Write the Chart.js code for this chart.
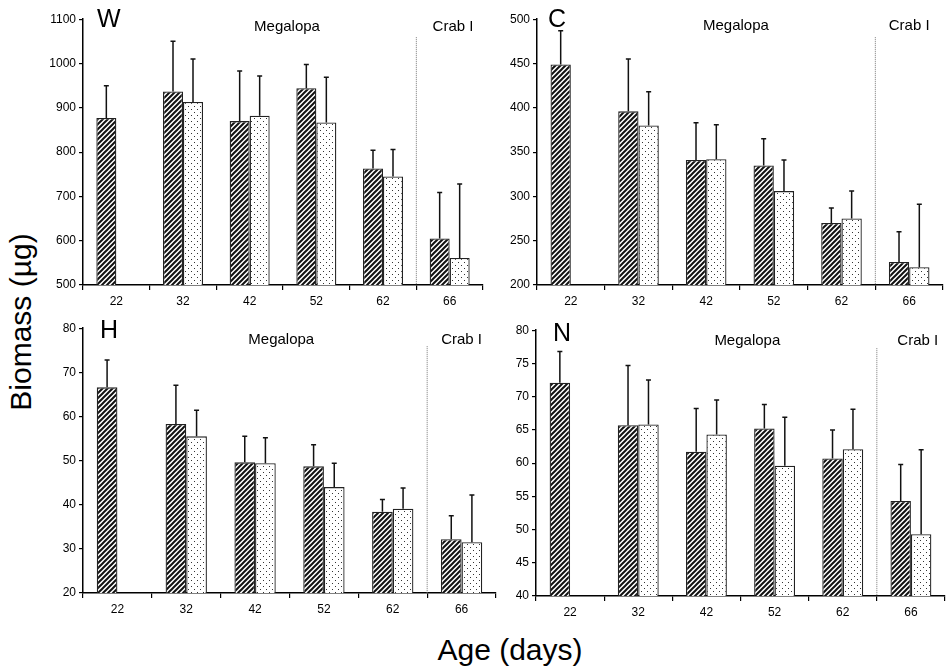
<!DOCTYPE html>
<html>
<head>
<meta charset="utf-8">
<script src="https://cdn.jsdelivr.net/npm/chart.js@4.4.1/dist/chart.umd.min.js"></script>
<style>
  body { margin: 0; background: #fff; width: 947px; height: 669px; position: relative; overflow: hidden;
         font-family: "Liberation Sans", Arial, sans-serif; }
  canvas { position: absolute; }
  #ylab { position: absolute; left: 21px; top: 322px; transform: translate(-50%, -50%) rotate(-90deg);
          font-size: 30px; line-height: 1; white-space: nowrap; color: #000; }
  #xlab { position: absolute; left: 510px; top: 650px; transform: translate(-50%, -50%);
          font-size: 30px; line-height: 1; white-space: nowrap; color: #000; }
</style>
</head>
<body>
<canvas id="cW"></canvas>
<canvas id="cC"></canvas>
<canvas id="cH"></canvas>
<canvas id="cN"></canvas>
<div id="ylab">Biomass (µg)</div>
<div id="xlab">Age (days)</div>
<script>
// ages (days)
const ages = ["22", "32", "42", "52", "62", "66"];

// W - dry weight
const wHatch = [877, 937, 870, 944, 763, 605];
const wHatchSd = [73, 113, 113, 54, 41, 104];
const wDot = [null, 913, 882, 867, 745, 561];
const wDotSd = [null, 97, 90, 102, 61, 167];

// C - carbon
const cHatch = [449, 396, 341, 335, 270, 226];
const cHatchSd = [38, 59, 42, 30, 17, 34];
const cDot = [null, 380, 342, 306, 275, 220];
const cDotSd = [null, 38, 39, 35, 31, 71];

// H - hydrogen
const hHatch = [66.6, 58.3, 49.6, 48.7, 38.4, 32.2];
const hHatchSd = [6.2, 8.8, 5.9, 4.9, 2.8, 5.3];
const hDot = [null, 55.5, 49.4, 44.0, 39.1, 31.5];
const hDotSd = [null, 5.9, 5.8, 5.4, 4.7, 10.7];

// N - nitrogen
const nHatch = [72.1, 65.7, 61.7, 65.2, 60.7, 54.3];
const nHatchSd = [4.7, 9.0, 6.5, 3.6, 4.3, 5.5];
const nDot = [null, 65.8, 64.3, 59.6, 62.1, 49.3];
const nDotSd = [null, 6.7, 5.2, 7.3, 6.0, 12.7];

const FONT = '"Liberation Sans", Arial, sans-serif';

// fill patterns
function makeHatch() {
  const s = 5, c = document.createElement("canvas");
  c.width = s; c.height = s;
  const g = c.getContext("2d");
  g.fillStyle = "#fff"; g.fillRect(0, 0, s, s);
  g.strokeStyle = "#111"; g.lineWidth = 2;
  g.beginPath();
  g.moveTo(0, s); g.lineTo(s, 0);
  g.moveTo(-1, 1); g.lineTo(1, -1);
  g.moveTo(s - 1, s + 1); g.lineTo(s + 1, s - 1);
  g.stroke();
  return g.createPattern(c, "repeat");
}
function makeDots() {
  const s = 6, c = document.createElement("canvas");
  c.width = s; c.height = s;
  const g = c.getContext("2d");
  g.fillStyle = "#fff"; g.fillRect(0, 0, s, s);
  g.fillStyle = "#333";
  g.fillRect(1, 1, 1, 1);
  g.fillRect(4, 4, 1, 1);
  return g.createPattern(c, "repeat");
}
const hatch = makeHatch();
const dots = makeDots();

// error bars (upper only)
const errorBars = {
  id: "errorBars",
  afterDatasetsDraw(chart) {
    const ctx = chart.ctx, y = chart.scales.y;
    chart.data.datasets.forEach((ds, i) => {
      const meta = chart.getDatasetMeta(i);
      meta.data.forEach((bar, j) => {
        const v = ds.data[j], e = ds.errors[j];
        if (v == null || e == null) return;
        const yTop = y.getPixelForValue(v + e);
        ctx.save();
        ctx.strokeStyle = "#111";
        ctx.lineWidth = 1.5;
        ctx.beginPath();
        ctx.moveTo(bar.x, bar.y);
        ctx.lineTo(bar.x, yTop);
        ctx.moveTo(bar.x - 2.5, yTop);
        ctx.lineTo(bar.x + 2.5, yTop);
        ctx.stroke();
        ctx.restore();
      });
    });
  }
};

// panel letter, stage names, divider line
const panelText = {
  id: "panelText",
  afterDraw(chart, args, opts) {
    const { ctx, chartArea: a } = chart;
    const x = chart.scales.x;
    const at = (v) => {
      const i = Math.floor(v), f = v - i;
      const p0 = x.getPixelForValue(i);
      const p1 = x.getPixelForValue(i + 1);
      return p0 + (p1 - p0) * f;
    };
    const xDiv = at(4.5);
    ctx.save();
    ctx.strokeStyle = "#777";
    ctx.lineWidth = 1;
    ctx.setLineDash([1, 1]);
    ctx.beginPath();
    ctx.moveTo(xDiv, a.top + 18);
    ctx.lineTo(xDiv, a.bottom);
    ctx.stroke();
    ctx.setLineDash([]);
    ctx.fillStyle = "#000";
    ctx.font = "25px " + FONT;
    ctx.textAlign = "left";
    ctx.textBaseline = "alphabetic";
    ctx.fillText(opts.letter, a.left + opts.letterDx, a.top + opts.letterDy);
    ctx.font = "15px " + FONT;
    ctx.textAlign = "center";
    ctx.textBaseline = "middle";
    ctx.fillText("Megalopa", at(opts.megaAt), a.top + opts.textDy);
    ctx.fillText("Crab I", at(opts.crabAt), a.top + opts.textDy);
    ctx.restore();
  }
};

function drawPanel(id, area, hatchData, hatchSd, dotData, dotSd, yMin, yMax, step, txt) {
  const cv = document.getElementById(id);
  cv.width = area.r - area.l + 42;
  cv.height = area.b - area.t + 40;
  cv.style.left = (area.l - 40) + "px";
  cv.style.top = (area.t - 10) + "px";
  new Chart(cv.getContext("2d"), {
    type: "bar",
    data: {
      labels: ages,
      datasets: [
        { data: hatchData, errors: hatchSd, backgroundColor: hatch, borderColor: "#222",
          borderWidth: 1.3, categoryPercentage: 0.6, barPercentage: 1.0 },
        { data: dotData, errors: dotSd, backgroundColor: dots, borderColor: "#222",
          borderWidth: 1.3, categoryPercentage: 0.6, barPercentage: 1.0 }
      ]
    },
    options: {
      responsive: false,
      animation: false,
      layout: { padding: { top: 10, right: 2, left: 0, bottom: 0 } },
      plugins: { legend: { display: false }, tooltip: { enabled: false }, panelText: txt },
      scales: {
        x: {
          grid: { offset: true, drawOnChartArea: false, tickLength: 5, color: "#000", lineWidth: 1.2 },
          border: { color: "#000", width: 1.5 },
          ticks: { font: { family: FONT, size: 12 }, color: "#000", padding: 4, maxRotation: 0 },
          afterFit: (s) => { s.height = 30; }
        },
        y: {
          min: yMin, max: yMax,
          ticks: { stepSize: step, font: { family: FONT, size: 12 }, color: "#000", padding: 3,
                   callback: (v) => String(v) },
          grid: { drawOnChartArea: false, tickLength: 4, color: "#000", lineWidth: 1.2 },
          border: { color: "#000", width: 1.5 },
          afterFit: (s) => { s.width = 40; }
        }
      }
    },
    plugins: [errorBars, panelText]
  });
}

drawPanel("cW", { l: 83, r: 483, t: 19, b: 285 }, wHatch, wHatchSd, wDot, wDotSd, 500, 1100, 100,
  { letter: "W", letterDx: 14, letterDy: 8, megaAt: 2.56, crabAt: 5.05, textDy: 8 });
drawPanel("cC", { l: 537, r: 943, t: 19, b: 285 }, cHatch, cHatchSd, cDot, cDotSd, 200, 500, 50,
  { letter: "C", letterDx: 11, letterDy: 8, megaAt: 2.44, crabAt: 5.0, textDy: 7 });
drawPanel("cH", { l: 83, r: 496, t: 328, b: 593 }, hHatch, hHatchSd, hDot, hDotSd, 20, 80, 10,
  { letter: "H", letterDx: 17, letterDy: 10, megaAt: 2.38, crabAt: 5.0, textDy: 12 });
drawPanel("cN", { l: 536, r: 945, t: 330, b: 596 }, nHatch, nHatchSd, nDot, nDotSd, 40, 80, 5,
  { letter: "N", letterDx: 17, letterDy: 11, megaAt: 2.6, crabAt: 5.1, textDy: 11 });
</script>
</body>
</html>
